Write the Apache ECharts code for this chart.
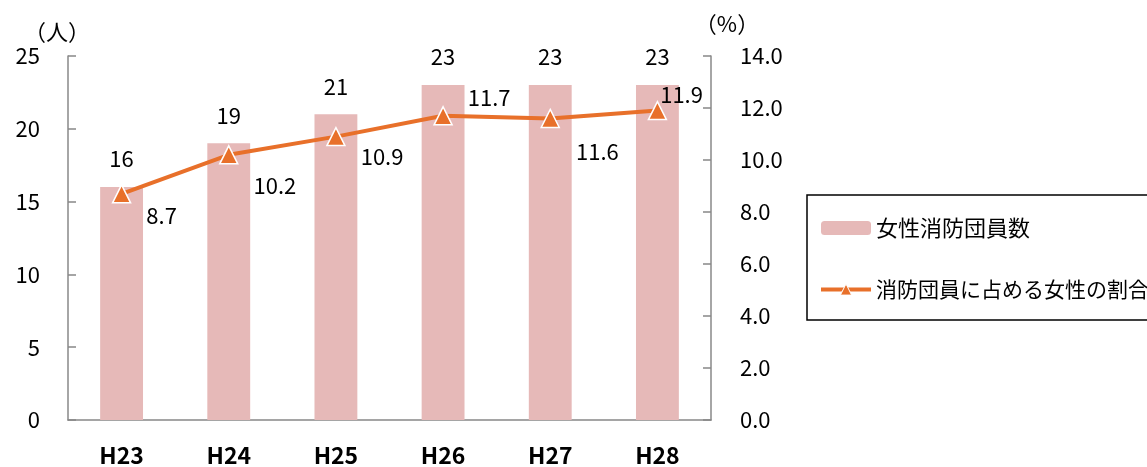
<!DOCTYPE html>
<html><head><meta charset="utf-8">
<script src="https://cdn.jsdelivr.net/npm/echarts@6/dist/echarts.min.js"></script>
<style>html,body{margin:0;padding:0;background:#fff}#c{width:1147px;height:467px}</style>
</head><body><div id="c"></div>
<script>
const categories = ['H23','H24','H25','H26','H27','H28'];
const memberCounts = [16, 19, 21, 23, 23, 23];
const femaleRatio = [8.7, 10.2, 10.9, 11.7, 11.6, 11.9];
const labelOffsets = [[15,22],[15,31],[15,20],[15,-18],[16,33],[-7,-16]];
const FONT = '"Noto Sans CJK JP", "Noto Sans", sans-serif';
const chart = echarts.init(document.getElementById('c'));
chart.setOption({
  animation: false,
  textStyle: {fontFamily: FONT},
  grid: {left: 68, right: 436, top: 56, bottom: 47},
  legend: {
    orient: 'vertical', left: 807, top: 195,
    borderColor: '#000', borderWidth: 1.5,
    padding: [22, 30, 20, 12], itemGap: 40,
    itemWidth: 50, itemHeight: 14,
    textStyle: {fontFamily: FONT, fontSize: 21, color: '#000'},
    data: [
      {name: '女性消防団員数', textStyle: {fontSize: 22}},
      {name: '消防団員に占める女性の割合', itemStyle: {borderColor: '#fff', borderWidth: 1}, lineStyle: {width: 4}}
    ]
  },
  xAxis: {
    type: 'category', data: categories,
    axisLine: {lineStyle: {color: '#888', width: 1.5}},
    axisTick: {inside: true, length: 8, lineStyle: {color: '#888', width: 1.5}},
    axisLabel: {fontFamily: FONT, fontSize: 23, fontWeight: 'bold', color: '#000', margin: 24}
  },
  yAxis: [{
    type: 'value', min: 0, max: 25, interval: 5,
    name: '（人）', nameLocation: 'end', nameGap: 13,
    nameTextStyle: {fontFamily: FONT, fontSize: 22, color: '#000', align: 'center', padding: [0, 22, 0, 0]},
    axisLine: {show: true, lineStyle: {color: '#888', width: 1.5}},
    axisTick: {show: true, inside: true, length: 8, lineStyle: {color: '#888', width: 1.5}},
    splitLine: {show: false},
    axisLabel: {fontFamily: FONT, fontSize: 22, color: '#000', margin: 28}
  }, {
    type: 'value', min: 0, max: 14, interval: 2,
    name: '（%）', nameLocation: 'end', nameGap: 21,
    nameTextStyle: {fontFamily: FONT, fontSize: 22, color: '#000', align: 'center', padding: [0, 0, 0, 32]},
    axisLine: {show: true, lineStyle: {color: '#888', width: 1.5}},
    axisTick: {show: true, inside: true, length: 8, lineStyle: {color: '#888', width: 1.5}},
    splitLine: {show: false},
    axisLabel: {fontFamily: FONT, fontSize: 22, color: '#000', margin: 29, formatter: v => v.toFixed(1)}
  }],
  series: [{
    name: '女性消防団員数', type: 'bar', data: memberCounts, barWidth: '40%',
    itemStyle: {color: '#E6B9B8'},
    label: {show: true, position: 'top', distance: 17, fontFamily: FONT, fontSize: 22, color: '#000'}
  }, {
    name: '消防団員に占める女性の割合', type: 'line', yAxisIndex: 1,
    data: femaleRatio.map((v, i) => ({value: v, label: {offset: labelOffsets[i]}})),
    lineStyle: {color: '#E8702A', width: 4},
    itemStyle: {color: '#E8702A', borderColor: '#fff', borderWidth: 1.5},
    symbol: 'triangle', symbolSize: 18,
    label: {show: true, position: 'right', distance: 0, fontFamily: FONT, fontSize: 22, color: '#000', formatter: p => p.value.toFixed(1)}
  }]
});
</script></body></html>
